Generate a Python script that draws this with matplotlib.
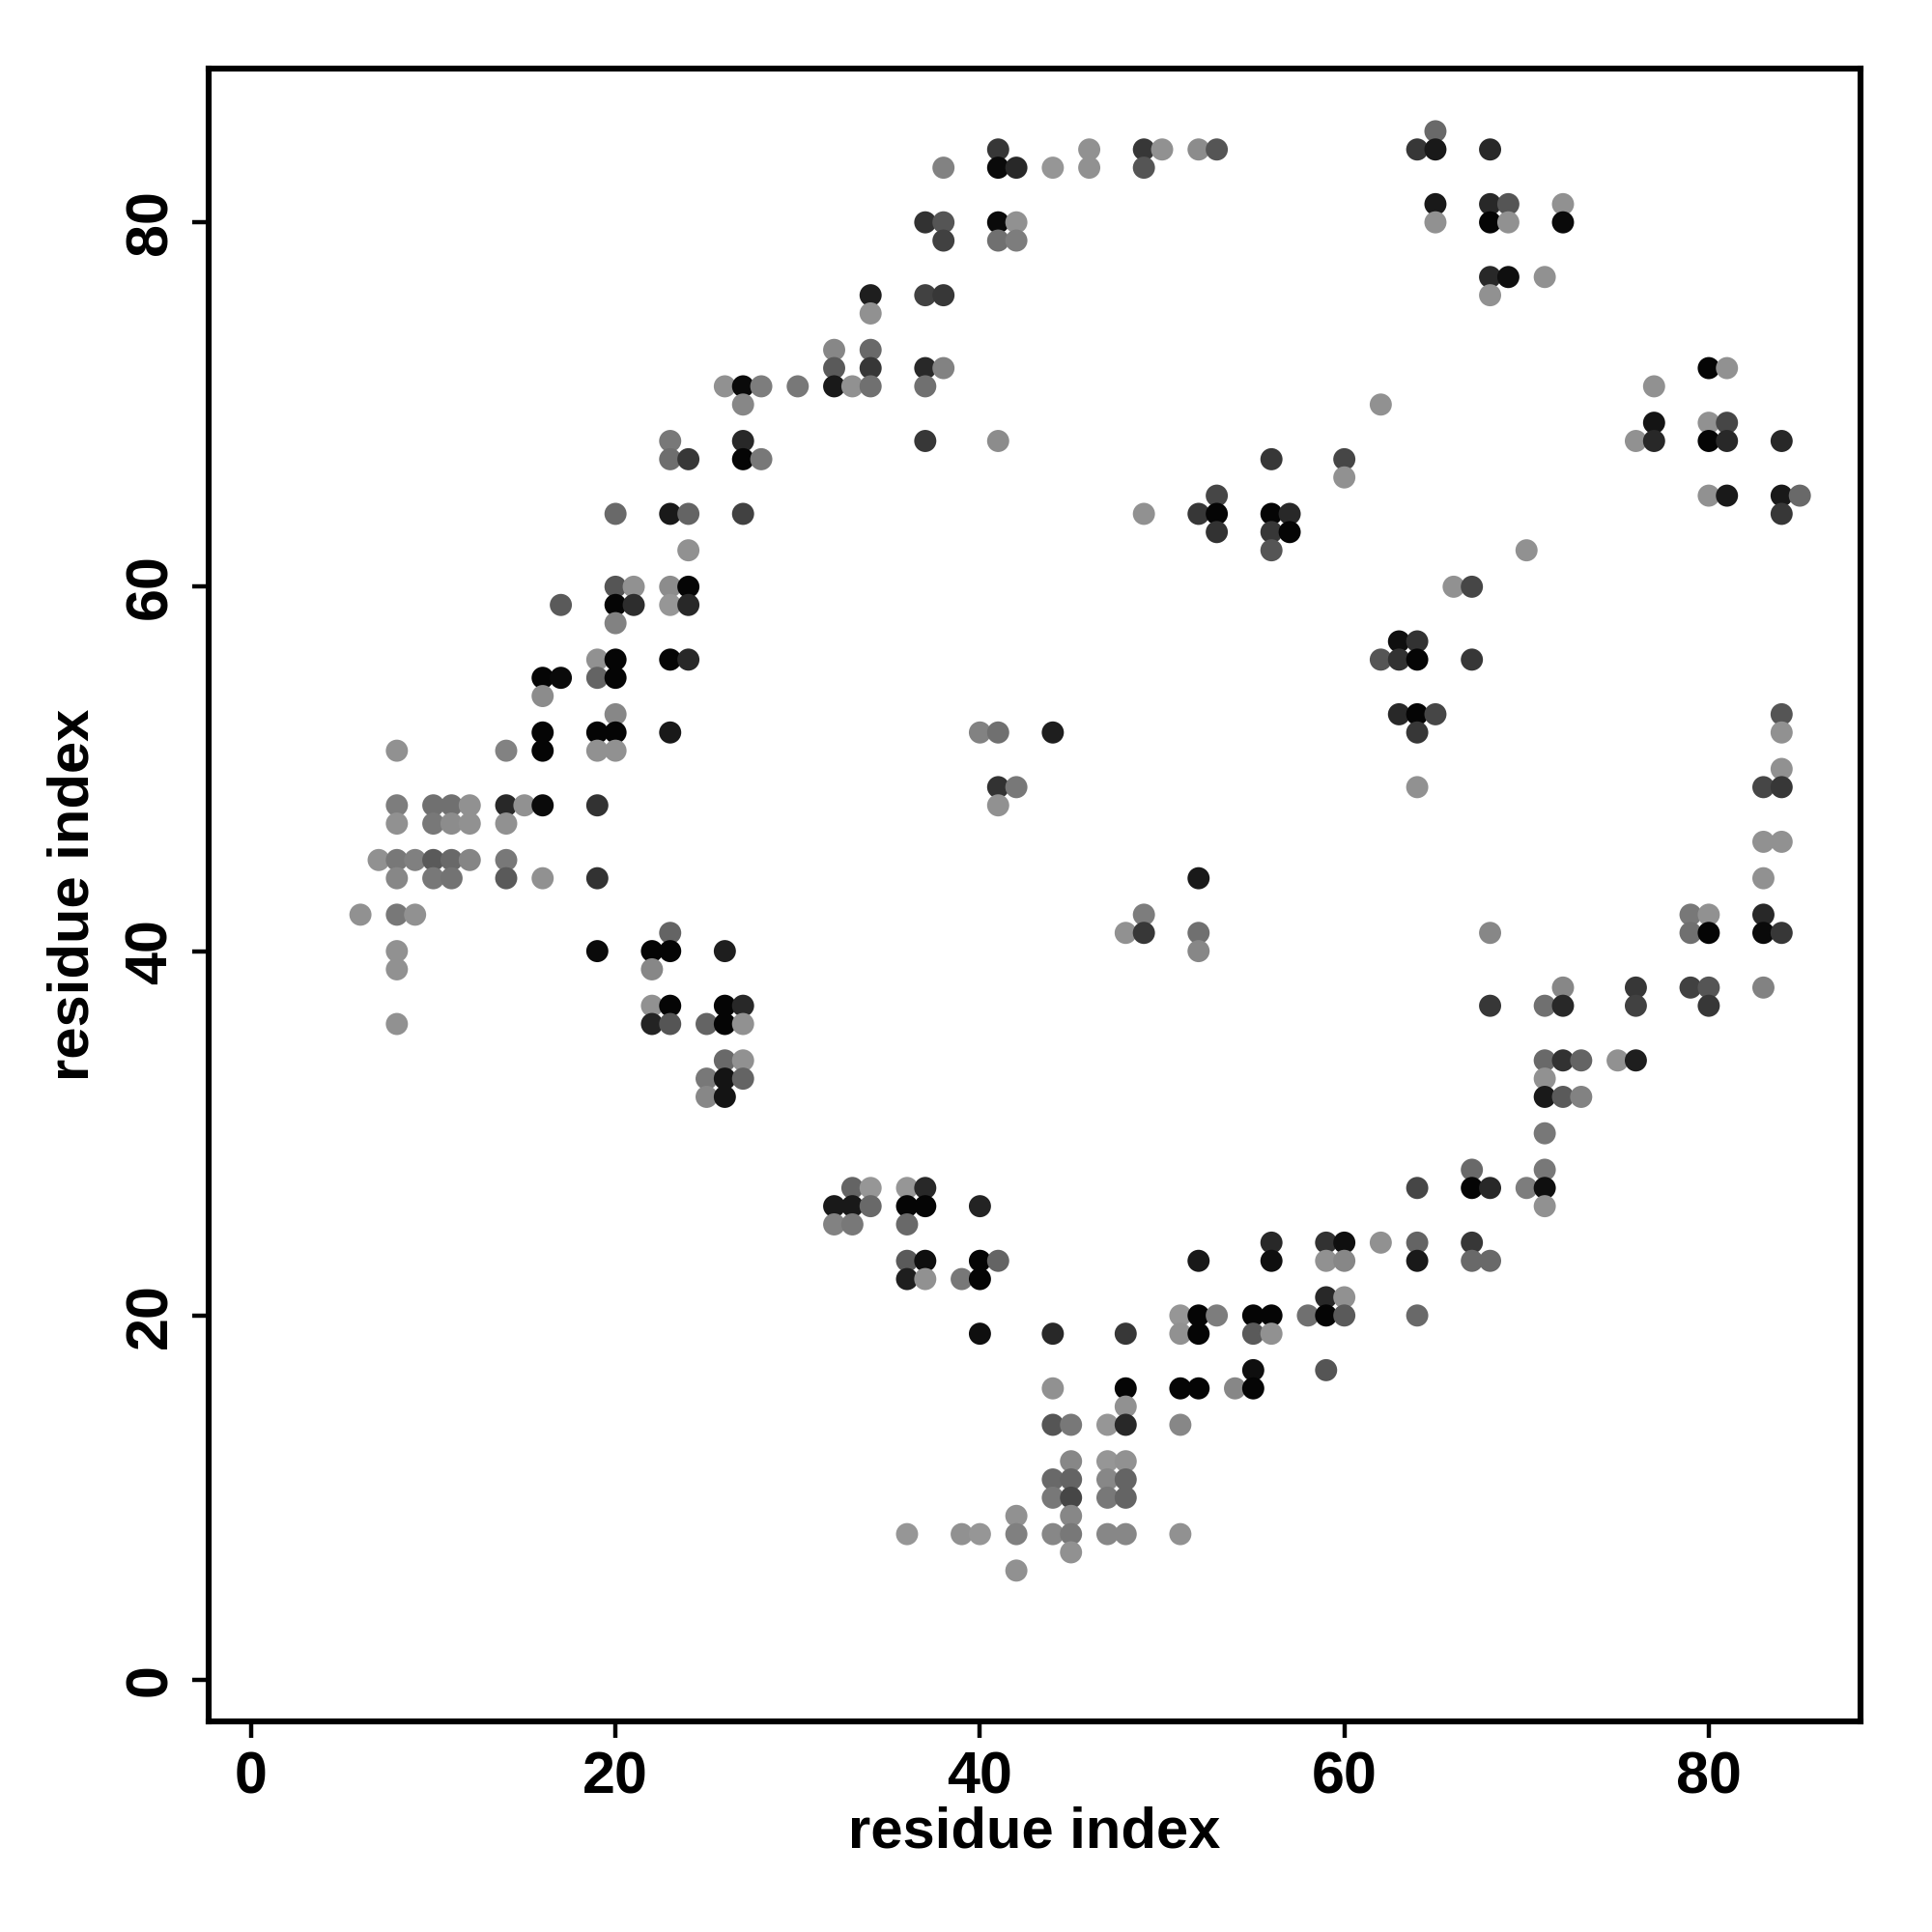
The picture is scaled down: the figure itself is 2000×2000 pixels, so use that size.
import matplotlib
matplotlib.use("Agg")
import matplotlib.pyplot as plt

# contact points: (residue i, residue j, grey level 0..255)
pts = [
(6,42,145),(7,45,145),
(8,51,145),(8,48,125),(8,47,145),(8,45,120),(8,44,135),(8,42,120),(8,40,145),(8,39,145),(8,36,145),
(9,45,128),(9,42,145),
(10,48,112),(10,47,120),(10,45,90),(10,44,120),
(11,48,112),(11,47,140),(11,45,105),(11,44,115),
(12,48,145),(12,47,145),(12,45,133),
(14,51,130),(14,48,40),(14,47,145),(14,45,120),(14,44,90),
(15,48,145),
(16,55,5),(16,54,140),(16,52,5),(16,51,5),(16,48,10),(16,44,145),
(17,59,90),(17,55,10),
(19,56,145),(19,55,100),(19,52,5),(19,51,145),(19,48,50),(19,44,50),(19,40,10),
(20,64,105),(20,60,85),(20,59,5),(20,58,130),(20,56,5),(20,55,5),(20,53,135),(20,52,5),(20,51,145),
(21,60,145),(21,59,45),
(22,40,5),(22,39,135),(22,37,145),(22,36,35),
(23,68,120),(23,67,110),(23,64,25),(23,60,140),(23,59,150),(23,56,5),(23,52,25),(23,41,100),(23,40,5),(23,37,5),(23,36,85),
(24,67,55),(24,64,100),(24,62,145),(24,60,5),(24,59,40),(24,56,40),
(25,36,100),(25,33,120),(25,32,135),
(26,71,145),(26,40,30),(26,37,5),(26,36,5),(26,34,105),(26,33,20),(26,32,20),
(27,71,10),(27,70,135),(27,68,40),(27,67,5),(27,64,65),(27,37,40),(27,36,145),(27,34,145),(27,33,100),
(28,71,125),(28,67,120),
(30,71,120),
(32,73,135),(32,72,90),(32,71,25),(32,26,25),(32,25,130),
(33,71,145),(33,27,100),(33,26,25),(33,25,120),
(34,76,30),(34,75,145),(34,73,105),(34,72,55),(34,71,112),(34,27,150),(34,26,105),
(36,27,150),(36,26,5),(36,25,105),(36,23,90),(36,22,30),(36,8,150),
(37,80,50),(37,76,65),(37,72,40),(37,71,112),(37,68,55),(37,27,40),(37,26,5),(37,23,15),(37,22,145),
(38,83,130),(38,80,85),(38,79,65),(38,76,55),(38,72,130),
(39,22,120),(39,8,145),
(40,52,130),(40,26,35),(40,23,5),(40,22,5),(40,19,15),(40,8,150),
(41,84,55),(41,83,10),(41,80,10),(41,79,112),(41,68,140),(41,52,112),(41,49,50),(41,48,145),(41,23,100),
(42,83,40),(42,80,145),(42,79,125),(42,49,120),(42,9,145),(42,8,128),(42,6,145),
(44,83,150),(44,52,30),(44,19,40),(44,16,145),(44,14,85),(44,11,105),(44,10,120),(44,8,135),
(45,14,120),(45,12,135),(45,11,100),(45,10,70),(45,9,135),(45,8,120),(45,7,145),
(46,84,145),(46,83,145),
(47,14,150),(47,12,150),(47,11,135),(47,10,120),(47,8,135),
(48,41,145),(48,19,55),(48,16,5),(48,15,145),(48,14,40),(48,12,145),(48,11,100),(48,10,100),(48,8,135),
(49,84,55),(49,83,85),(49,64,145),(49,42,125),(49,41,55),
(50,84,145),
(51,20,150),(51,19,145),(51,16,5),(51,14,135),(51,8,145),
(52,84,140),(52,64,55),(52,44,25),(52,41,112),(52,40,135),(52,23,25),(52,20,5),(52,19,5),(52,16,5),
(53,84,85),(53,65,70),(53,64,5),(53,63,50),(53,20,125),
(54,16,135),
(55,20,5),(55,19,90),(55,17,15),(55,16,5),
(56,67,55),(56,64,5),(56,63,55),(56,62,85),(56,24,40),(56,23,15),(56,20,5),(56,19,145),
(57,64,40),(57,63,5),
(58,20,112),
(59,24,50),(59,23,145),(59,21,40),(59,20,5),(59,17,85),
(60,67,70),(60,66,145),(60,24,15),(60,23,135),(60,21,145),(60,20,90),
(62,70,145),(62,56,85),(62,24,145),
(63,57,15),(63,56,50),(63,53,40),
(64,84,55),(64,57,50),(64,56,5),(64,53,5),(64,52,55),(64,49,145),(64,27,70),(64,24,100),(64,23,25),(64,20,105),
(65,85,105),(65,84,25),(65,81,25),(65,80,145),(65,53,70),
(66,60,145),
(67,60,70),(67,56,55),(67,28,105),(67,27,5),(67,24,55),(67,23,105),
(68,84,40),(68,81,40),(68,80,5),(68,77,40),(68,76,145),(68,41,135),(68,37,55),(68,27,40),(68,23,105),
(69,81,85),(69,80,145),(69,77,15),
(70,62,145),(70,27,125),
(71,77,145),(71,37,112),(71,34,105),(71,33,145),(71,32,25),(71,30,120),(71,28,120),(71,27,15),(71,26,145),
(72,81,145),(72,80,10),(72,38,135),(72,37,40),(72,34,50),(72,32,90),
(73,34,100),(73,32,130),
(75,34,145),
(76,68,145),(76,38,55),(76,37,65),(76,34,30),
(77,71,145),(77,69,20),(77,68,40),
(79,42,120),(79,41,112),(79,38,65),
(80,72,5),(80,69,145),(80,68,5),(80,65,145),(80,42,145),(80,41,5),(80,38,85),(80,37,55),
(81,72,145),(81,69,70),(81,68,40),(81,65,25),
(83,49,70),(83,46,145),(83,44,145),(83,42,40),(83,41,10),(83,38,130),
(84,68,40),(84,65,25),(84,64,55),(84,53,85),(84,52,145),(84,50,145),(84,49,55),(84,46,145),(84,41,55),
(85,65,105),
]
res_i = [p[0] for p in pts]
res_j = [p[1] for p in pts]
shade = [p[2] for p in pts]

ticks = [0, 20, 40, 60, 80]

plt.rcParams['font.family'] = ['Liberation Sans', 'DejaVu Sans']
plt.rcParams['font.weight'] = 'bold'

fig = plt.figure(figsize=(10, 10), dpi=200)
ax = fig.add_axes([0.108, 0.109, 0.855, 0.8555])
colors = [(g / 255, g / 255, g / 255) for g in shade]
ax.scatter(res_i, res_j, s=68, c=colors, linewidths=0, zorder=3)

ax.set_xlim(-2.33, 88.33)
ax.set_ylim(-2.28, 88.44)
ax.set_xticks(ticks)
ax.set_yticks(ticks)
ax.set_xticklabels([str(t) for t in ticks], fontsize=22, fontweight='bold')
ax.set_yticklabels([str(t) for t in ticks], fontsize=22, fontweight='bold',
                   rotation=90, va='center')
ax.tick_params(axis='both', direction='out', length=6, width=1.6, pad=5)
for sp in ax.spines.values():
    sp.set_linewidth(2.2)
ax.set_xlabel('residue index', fontsize=21.5, fontweight='bold', labelpad=0)
ax.set_ylabel('residue index', fontsize=21.5, fontweight='bold', labelpad=9)

fig.savefig('out.png', dpi=200, facecolor='white')
